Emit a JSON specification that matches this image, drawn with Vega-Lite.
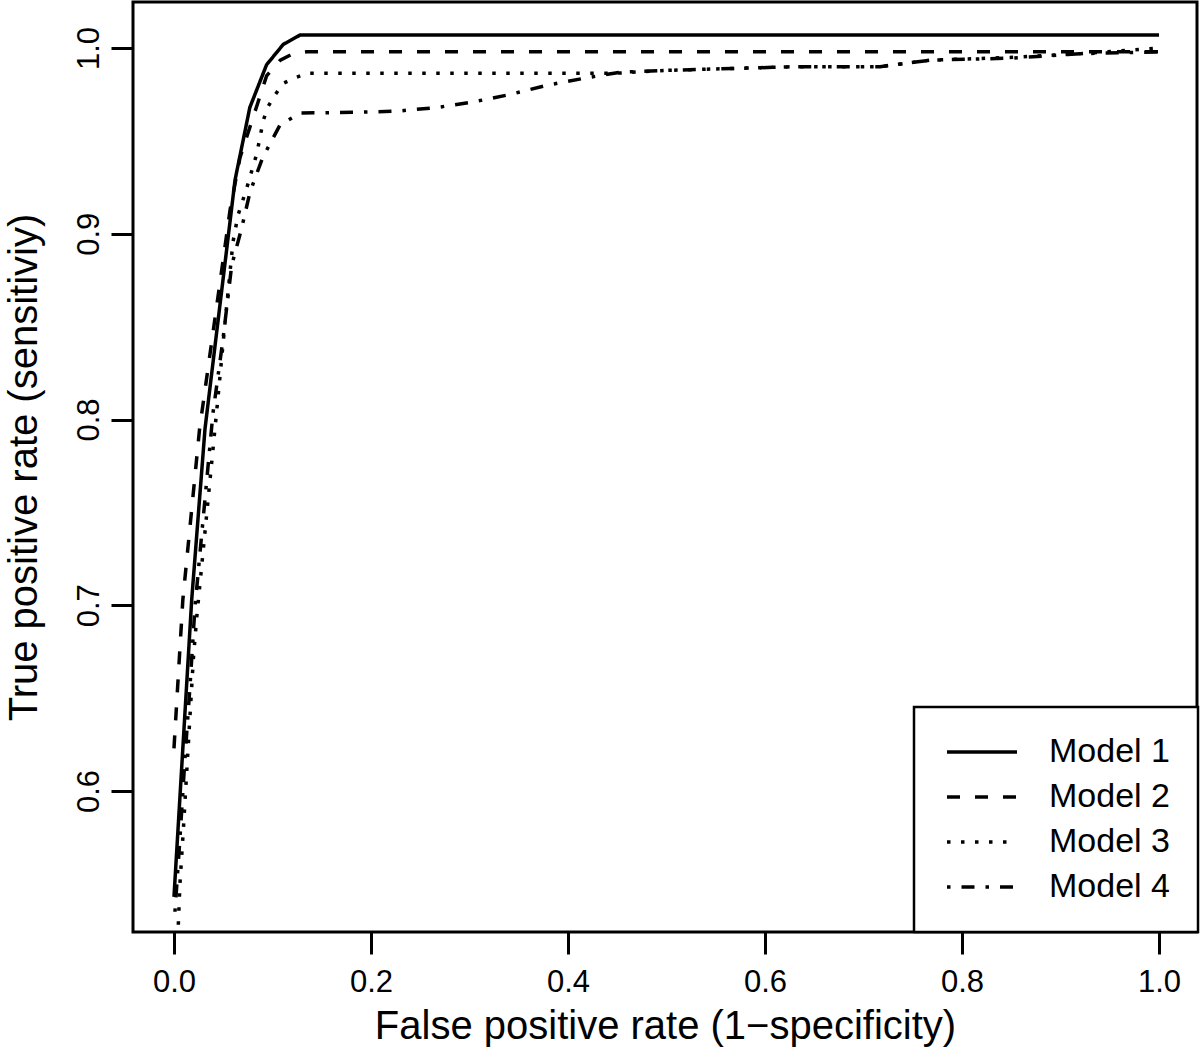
{
  "$schema": "https://vega.github.io/schema/vega-lite/v6.json",
  "width": 1064,
  "height": 930,
  "autosize": "none",
  "padding": {"left": 133, "top": 2, "right": 3, "bottom": 118},
  "background": "white",
  "config": {
    "view": {"stroke": "black", "strokeWidth": 3},
    "font": "Liberation Sans",
    "axis": {
      "grid": false,
      "domain": false,
      "ticks": true,
      "tickColor": "black",
      "tickWidth": 3,
      "tickSize": 22,
      "labelColor": "black",
      "titleColor": "black",
      "labelFontSize": 31,
      "titleFontSize": 40,
      "titleFontWeight": "normal",
      "labelFont": "Liberation Sans",
      "titleFont": "Liberation Sans",
      "labelOverlap": false,
      "labelFlush": false
    },
    "legend": {"strokeWidth": 2.5}
  },
  "data": {
    "values": [
      {"model": "Model 1", "fpr": 0, "tpr": 0.543},
      {"model": "Model 1", "fpr": 0.018, "tpr": 0.703},
      {"model": "Model 1", "fpr": 0.0315, "tpr": 0.795},
      {"model": "Model 1", "fpr": 0.057, "tpr": 0.907},
      {"model": "Model 1", "fpr": 0.062, "tpr": 0.929},
      {"model": "Model 1", "fpr": 0.077, "tpr": 0.968},
      {"model": "Model 1", "fpr": 0.094, "tpr": 0.991},
      {"model": "Model 1", "fpr": 0.111, "tpr": 1.002},
      {"model": "Model 1", "fpr": 0.128, "tpr": 1.007},
      {"model": "Model 1", "fpr": 0.145, "tpr": 1.007},
      {"model": "Model 1", "fpr": 1.0, "tpr": 1.007},

      {"model": "Model 2", "fpr": 0, "tpr": 0.623},
      {"model": "Model 2", "fpr": 0.009, "tpr": 0.703},
      {"model": "Model 2", "fpr": 0.026, "tpr": 0.795},
      {"model": "Model 2", "fpr": 0.057, "tpr": 0.913},
      {"model": "Model 2", "fpr": 0.067, "tpr": 0.941},
      {"model": "Model 2", "fpr": 0.094, "tpr": 0.985},
      {"model": "Model 2", "fpr": 0.108, "tpr": 0.9935},
      {"model": "Model 2", "fpr": 0.121, "tpr": 0.997},
      {"model": "Model 2", "fpr": 0.135, "tpr": 0.998},
      {"model": "Model 2", "fpr": 1.0, "tpr": 0.998},

      {"model": "Model 3", "fpr": 0.0044, "tpr": 0.528},
      {"model": "Model 3", "fpr": 0.0061, "tpr": 0.5505},
      {"model": "Model 3", "fpr": 0.0095, "tpr": 0.579},
      {"model": "Model 3", "fpr": 0.0129, "tpr": 0.61},
      {"model": "Model 3", "fpr": 0.0162, "tpr": 0.64},
      {"model": "Model 3", "fpr": 0.0196, "tpr": 0.6705},
      {"model": "Model 3", "fpr": 0.023, "tpr": 0.693},
      {"model": "Model 3", "fpr": 0.0447, "tpr": 0.812},
      {"model": "Model 3", "fpr": 0.0518, "tpr": 0.852},
      {"model": "Model 3", "fpr": 0.0599, "tpr": 0.8956},
      {"model": "Model 3", "fpr": 0.065, "tpr": 0.91},
      {"model": "Model 3", "fpr": 0.0738, "tpr": 0.9245},
      {"model": "Model 3", "fpr": 0.084, "tpr": 0.943},
      {"model": "Model 3", "fpr": 0.0907, "tpr": 0.961},
      {"model": "Model 3", "fpr": 0.095, "tpr": 0.968},
      {"model": "Model 3", "fpr": 0.1025, "tpr": 0.9747},
      {"model": "Model 3", "fpr": 0.111, "tpr": 0.981},
      {"model": "Model 3", "fpr": 0.123, "tpr": 0.984},
      {"model": "Model 3", "fpr": 0.136, "tpr": 0.9865},
      {"model": "Model 3", "fpr": 0.45, "tpr": 0.9865},
      {"model": "Model 3", "fpr": 0.5, "tpr": 0.988},
      {"model": "Model 3", "fpr": 0.567, "tpr": 0.989},
      {"model": "Model 3", "fpr": 0.632, "tpr": 0.99},
      {"model": "Model 3", "fpr": 0.717, "tpr": 0.99},
      {"model": "Model 3", "fpr": 0.768, "tpr": 0.9935},
      {"model": "Model 3", "fpr": 0.852, "tpr": 0.995},
      {"model": "Model 3", "fpr": 0.92, "tpr": 0.997},
      {"model": "Model 3", "fpr": 1.0, "tpr": 1.0},

      {"model": "Model 4", "fpr": 0.001, "tpr": 0.535},
      {"model": "Model 4", "fpr": 0.006, "tpr": 0.574},
      {"model": "Model 4", "fpr": 0.0112, "tpr": 0.618},
      {"model": "Model 4", "fpr": 0.0162, "tpr": 0.656},
      {"model": "Model 4", "fpr": 0.0213, "tpr": 0.699},
      {"model": "Model 4", "fpr": 0.0396, "tpr": 0.8035},
      {"model": "Model 4", "fpr": 0.0497, "tpr": 0.843},
      {"model": "Model 4", "fpr": 0.0586, "tpr": 0.883},
      {"model": "Model 4", "fpr": 0.0687, "tpr": 0.903},
      {"model": "Model 4", "fpr": 0.0772, "tpr": 0.9225},
      {"model": "Model 4", "fpr": 0.09, "tpr": 0.941},
      {"model": "Model 4", "fpr": 0.1076, "tpr": 0.9585},
      {"model": "Model 4", "fpr": 0.128, "tpr": 0.965},
      {"model": "Model 4", "fpr": 0.189, "tpr": 0.9655},
      {"model": "Model 4", "fpr": 0.226, "tpr": 0.966},
      {"model": "Model 4", "fpr": 0.267, "tpr": 0.968},
      {"model": "Model 4", "fpr": 0.304, "tpr": 0.971},
      {"model": "Model 4", "fpr": 0.341, "tpr": 0.975},
      {"model": "Model 4", "fpr": 0.379, "tpr": 0.98},
      {"model": "Model 4", "fpr": 0.419, "tpr": 0.984},
      {"model": "Model 4", "fpr": 0.453, "tpr": 0.987},
      {"model": "Model 4", "fpr": 0.5, "tpr": 0.988},
      {"model": "Model 4", "fpr": 0.567, "tpr": 0.989},
      {"model": "Model 4", "fpr": 0.632, "tpr": 0.99},
      {"model": "Model 4", "fpr": 0.717, "tpr": 0.99},
      {"model": "Model 4", "fpr": 0.768, "tpr": 0.9935},
      {"model": "Model 4", "fpr": 0.852, "tpr": 0.9946},
      {"model": "Model 4", "fpr": 0.92, "tpr": 0.997},
      {"model": "Model 4", "fpr": 1.0, "tpr": 0.998}
    ]
  },
  "mark": {"type": "line", "stroke": "black", "strokeWidth": 3.5, "clip": true, "strokeCap": "butt"},
  "encoding": {
    "x": {
      "field": "fpr",
      "type": "quantitative",
      "scale": {"domain": [-0.0416, 1.0386], "nice": false, "zero": false},
      "axis": {
        "values": [0, 0.2, 0.4, 0.6, 0.8, 1.0],
        "format": ".1f",
        "title": "False positive rate (1−specificity)",
        "labelPadding": 13,
        "titleY": 106,
        "titleBaseline": "alphabetic"
      }
    },
    "y": {
      "field": "tpr",
      "type": "quantitative",
      "scale": {"domain": [0.5241, 1.0248], "nice": false, "zero": false},
      "axis": {
        "values": [0.6, 0.7, 0.8, 0.9, 1.0],
        "format": ".1f",
        "title": "True positive rate (sensitiviy)",
        "labelAngle": 270,
        "labelAlign": "center",
        "labelBaseline": "alphabetic",
        "labelPadding": 13,
        "titleAngle": 270,
        "titleAlign": "center",
        "titleBaseline": "alphabetic",
        "titleX": -97,
        "titleY": 465
      }
    },
    "strokeDash": {
      "field": "model",
      "type": "nominal",
      "scale": {
        "domain": ["Model 1", "Model 2", "Model 3", "Model 4"],
        "range": [[1, 0], [13, 15], [3.5, 10.5], [3.5, 11, 13, 11]]
      },
      "legend": {
        "orient": "none",
        "legendX": 781,
        "legendY": 705,
        "title": null,
        "symbolType": "M-5,0H5",
        "symbolSize": 196,
        "symbolStrokeWidth": 3.5,
        "symbolStrokeColor": "black",
        "symbolFillColor": "transparent",
        "labelFontSize": 34,
        "labelFont": "Liberation Sans",
        "labelColor": "black",
        "padding": 28,
        "rowPadding": 11,
        "labelOffset": 50,
        "symbolOffset": 23,
        "strokeColor": "black",
        "fillColor": "white",
        "cornerRadius": 0
      }
    }
  }
}
